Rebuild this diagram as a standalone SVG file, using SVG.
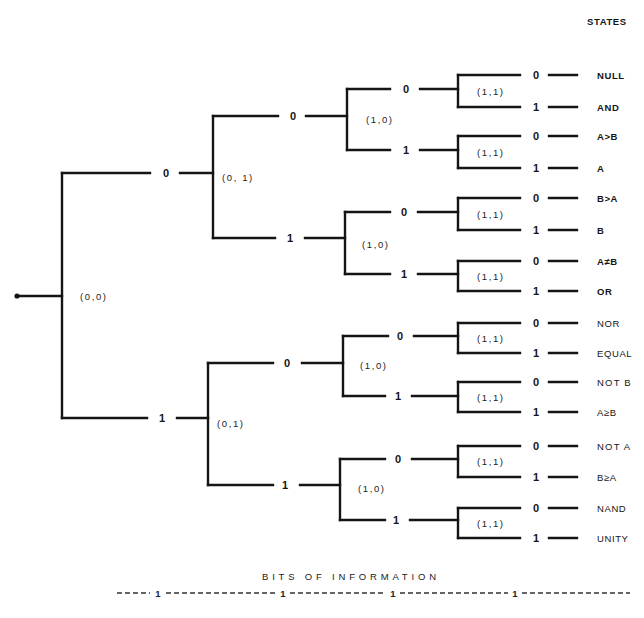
<svg xmlns="http://www.w3.org/2000/svg" width="644" height="618" viewBox="0 0 644 618">
<style>
.ln{stroke:#151515;stroke-width:2.4;fill:none;stroke-linecap:square}
.dl{stroke:#333;stroke-width:1.3;fill:none;stroke-dasharray:5 3}
.d{font-family:"Liberation Sans",Arial,sans-serif;font-size:11px;font-weight:bold;fill:#151515;text-anchor:middle}
.p{font-family:"Liberation Sans",Arial,sans-serif;font-size:9.5px;fill:#222;letter-spacing:1.6px}
.s{font-family:"Liberation Sans",Arial,sans-serif;font-size:9.5px;font-weight:bold;fill:#151515;letter-spacing:0.6px}
.h{font-family:"Liberation Sans",Arial,sans-serif;font-size:9.5px;fill:#222}
</style>
<rect width="644" height="618" fill="#fff"/>
<text class="s" x="587" y="25" letter-spacing="1">STATES</text>

<g id="connectors">
<path class="ln" d="M17,296 H62"/>
<path class="ln" d="M62,173 H150 M180,173 H213"/><text class="d" x="166" y="177">0</text>
<path class="ln" d="M62,418 H147 M177,418 H208"/><text class="d" x="162" y="422">1</text>
<path class="ln" d="M213,116 H278 M306,116 H347"/><text class="d" x="293" y="120">0</text>
<path class="ln" d="M213,238 H275 M305,238 H345"/><text class="d" x="290" y="242">1</text>
<path class="ln" d="M208,363 H273 M302,363 H343"/><text class="d" x="287" y="367">0</text>
<path class="ln" d="M208,485 H273 M300,485 H340"/><text class="d" x="285" y="489">1</text>
<path class="ln" d="M347,89 H390 M420,89 H458"/><text class="d" x="406" y="93">0</text>
<path class="ln" d="M347,150 H390 M420,150 H458"/><text class="d" x="406" y="154">1</text>
<path class="ln" d="M345,212 H390 M418,212 H458"/><text class="d" x="404" y="216">0</text>
<path class="ln" d="M345,274 H390 M418,274 H458"/><text class="d" x="404" y="278">1</text>
<path class="ln" d="M343,336 H388 M414,336 H458"/><text class="d" x="400" y="340">0</text>
<path class="ln" d="M343,396 H385 M412,396 H458"/><text class="d" x="398" y="400">1</text>
<path class="ln" d="M340,459 H385 M412,459 H458"/><text class="d" x="398" y="463">0</text>
<path class="ln" d="M340,520 H385 M410,520 H458"/><text class="d" x="396" y="524">1</text>
<!-- leaves -->
<path class="ln" d="M458,75 H520 M549,75 H577 M458,107 H520 M549,107 H577
M458,136 H520 M549,136 H577 M458,168 H520 M549,168 H577
M458,198 H520 M549,198 H577 M458,230 H520 M549,230 H577
M458,261 H520 M549,261 H577 M458,291 H520 M549,291 H577
M458,323 H520 M549,323 H577 M458,353 H520 M549,353 H577
M458,382 H520 M549,382 H577 M458,412 H520 M549,412 H577
M458,446 H520 M549,446 H577 M458,477 H520 M549,477 H577
M458,508 H520 M549,508 H577 M458,538 H520 M549,538 H577"/>
<g class="d">
<text x="536" y="79">0</text><text x="536" y="111">1</text>
<text x="536" y="140">0</text><text x="536" y="172">1</text>
<text x="536" y="202">0</text><text x="536" y="234">1</text>
<text x="536" y="265">0</text><text x="536" y="295">1</text>
<text x="536" y="327">0</text><text x="536" y="357">1</text>
<text x="536" y="386">0</text><text x="536" y="416">1</text>
<text x="536" y="450">0</text><text x="536" y="481">1</text>
<text x="536" y="512">0</text><text x="536" y="542">1</text>
</g>
</g>

<g id="n00"><circle cx="17" cy="296" r="2.6" fill="#151515"/><path class="ln" d="M62,173 V418"/><text class="p" x="80" y="299.5">(0,0)</text></g>
<g id="n01a"><path class="ln" d="M213,116 V238"/><text class="p" x="222" y="180.5">(0, 1)</text></g>
<g id="n01b"><path class="ln" d="M208,363 V485"/><text class="p" x="217" y="426.5">(0,1)</text></g>
<g id="n10a"><path class="ln" d="M347,89 V150"/><text class="p" x="366" y="122.5">(1,0)</text></g>
<g id="n10b"><path class="ln" d="M345,212 V274"/><text class="p" x="362" y="247.5">(1,0)</text></g>
<g id="n10c"><path class="ln" d="M343,336 V396"/><text class="p" x="360" y="369">(1,0)</text></g>
<g id="n10d"><path class="ln" d="M340,459 V520"/><text class="p" x="358" y="492">(1,0)</text></g>
<g id="n11a"><path class="ln" d="M458,75 V107"/><text class="p" x="477" y="95">(1,1)</text></g>
<g id="n11b"><path class="ln" d="M458,136 V168"/><text class="p" x="477" y="156">(1,1)</text></g>
<g id="n11c"><path class="ln" d="M458,198 V230"/><text class="p" x="477" y="218">(1,1)</text></g>
<g id="n11d"><path class="ln" d="M458,261 V291"/><text class="p" x="477" y="280">(1,1)</text></g>
<g id="n11e"><path class="ln" d="M458,323 V353"/><text class="p" x="477" y="342">(1,1)</text></g>
<g id="n11f"><path class="ln" d="M458,382 V412"/><text class="p" x="477" y="401">(1,1)</text></g>
<g id="n11g"><path class="ln" d="M458,446 V477"/><text class="p" x="477" y="465">(1,1)</text></g>
<g id="n11h"><path class="ln" d="M458,508 V538"/><text class="p" x="477" y="527">(1,1)</text></g>

<g class="s">
<g id="st1"><text x="597" y="79">NULL</text></g>
<g id="st2"><text x="597" y="111">AND</text></g>
<g id="st3"><text x="597" y="140">A&gt;B</text></g>
<g id="st4"><text x="597" y="172">A</text></g>
<g id="st5"><text x="597" y="202">B&gt;A</text></g>
<g id="st6"><text x="597" y="234">B</text></g>
<g id="st7"><text x="597" y="265">A≠B</text></g>
<g id="st8"><text x="597" y="295">OR</text></g>
<g id="st9"><text x="597" y="327" font-weight="normal">NOR</text></g>
<g id="st10"><text x="597" y="357" font-weight="normal">EQUAL</text></g>
<g id="st11"><text x="597" y="386" font-weight="normal" letter-spacing="1.2">NOT B</text></g>
<g id="st12"><text x="597" y="416" font-weight="normal">A≥B</text></g>
<g id="st13"><text x="597" y="450" font-weight="normal" letter-spacing="1.2">NOT A</text></g>
<g id="st14"><text x="597" y="481" font-weight="normal">B≥A</text></g>
<g id="st15"><text x="597" y="512" font-weight="normal">NAND</text></g>
<g id="st16"><text x="597" y="542" font-weight="normal">UNITY</text></g>
</g>

<text class="h" x="262" y="580" textLength="174" lengthAdjust="spacing">BITS OF INFORMATION</text>
<path class="dl" d="M117,593 H150 M166,593 H277 M290,593 H386 M400,593 H508 M522,593 H630"/>
<g class="h" text-anchor="middle" font-weight="bold"><text x="158" y="597">1</text><text x="283" y="597">1</text><text x="393" y="597">1</text><text x="515" y="597">1</text></g>
</svg>
